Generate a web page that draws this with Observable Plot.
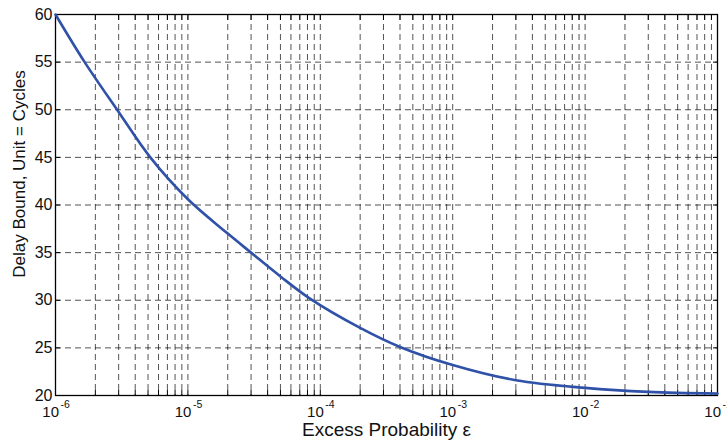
<!DOCTYPE html>
<html>
<head>
<meta charset="utf-8">
<script src="https://cdn.jsdelivr.net/npm/d3@7"></script>
<script src="https://cdn.jsdelivr.net/npm/@observablehq/plot@0.6"></script>
<style>
  html, body { margin: 0; padding: 0; background: #fff; }
</style>
</head>
<body>
<div id="chart"></div>
<script>
// Curve
const epsilon = [1e-6, 1.66e-6, 2.92e-6, 5.2e-6, 1e-5, 2e-5, 3e-5, 5e-5, 8.3e-5, 2e-4, 4e-4, 1e-3, 3e-3, 1e-2, 3e-2, 1e-1];
const delayBound = [60, 55, 50, 45, 40.6, 37.0, 35.0, 32.5, 30.2, 27.1, 25.1, 23.2, 21.6, 20.8, 20.38, 20.2];

// Axis ticks
const xDecades = [1e-6, 1e-5, 1e-4, 1e-3, 1e-2, 1e-1];
const xExponents = ["-6", "-5", "-4", "-3", "-2", "-1"];
const xMultipliers = [1, 2, 3, 4, 5, 6, 7, 8, 9];
const yTicks = [20, 25, 30, 35, 40, 45, 50, 55, 60];

const xLabel = "Excess Probability ε";
const yLabel = "Delay Bound, Unit = Cycles";

const xMinor = xDecades.slice(0, -1).flatMap(d => xMultipliers.map(m => d * m)).concat([xDecades[xDecades.length - 1]]);
const data = epsilon.map((e, i) => ({e, d: delayBound[i]}));
const decadeLabels = xDecades.map((d, i) => ({d, exp: xExponents[i]}));

const font = "'Liberation Sans', Arial, Helvetica, sans-serif";
const grid = {stroke: "#000", strokeWidth: 0.8, strokeDasharray: "6,4", strokeOpacity: 0.85};

const chart = Plot.plot({
  width: 727,
  height: 443,
  marginLeft: 55,
  marginRight: 10,
  marginTop: 14,
  marginBottom: 48,
  style: {fontFamily: font, background: "#fff", color: "#000"},
  x: {type: "log", domain: [1e-6, 1e-1], label: null},
  y: {domain: [20, 60], label: null},
  marks: [
    Plot.ruleX(xMinor, grid),
    Plot.ruleY(yTicks, grid),
    // inward ticks
    Plot.axisX({ticks: xMinor, tickSize: -5, tickFormat: () => "", anchor: "bottom", strokeWidth: 1}),
    Plot.axisX({ticks: xMinor, tickSize: -5, tickFormat: () => "", anchor: "top", strokeWidth: 1}),
    Plot.axisY({ticks: yTicks, tickSize: -5, tickFormat: () => "", anchor: "left", strokeWidth: 1}),
    Plot.axisY({ticks: yTicks, tickSize: -5, tickFormat: () => "", anchor: "right", strokeWidth: 1}),
    // y tick labels
    Plot.axisY({ticks: yTicks, tickSize: 0, tickPadding: 3, anchor: "left", fontSize: 16, label: null, fill: "#111"}),
    // x tick labels: 10 with superscript exponent
    Plot.text(decadeLabels, {x: "d", text: () => "10", frameAnchor: "bottom", textAnchor: "end", dx: 3.5, dy: 21.5, fontSize: 15, fill: "#111"}),
    Plot.text(decadeLabels, {x: "d", text: "exp", frameAnchor: "bottom", textAnchor: "start", dx: 5, dy: 12, fontSize: 10.5, fill: "#111"}),
    // axis titles
    Plot.text([xLabel], {frameAnchor: "bottom", text: d => d, textAnchor: "middle", dy: 40, fontSize: 19, fill: "#111"}),
    Plot.text([yLabel], {frameAnchor: "left", text: d => d, textAnchor: "middle", rotate: -90, dx: -36, dy: -31, fontSize: 17, fill: "#111"}),
    Plot.frame({stroke: "#000", strokeWidth: 1.3}),
    Plot.line(data, {x: "e", y: "d", curve: "catmull-rom", stroke: "#2f52a8", strokeWidth: 2.6})
  ]
});
document.getElementById("chart").appendChild(chart);
</script>
</body>
</html>
